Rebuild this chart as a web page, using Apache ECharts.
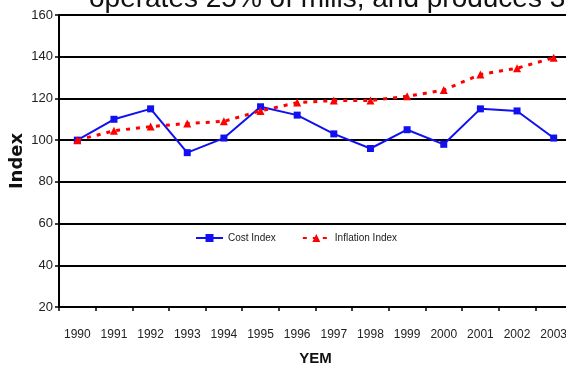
<!DOCTYPE html>
<html>
<head>
<meta charset="utf-8">
<title>Cost Index vs Inflation Index</title>
<script src="https://cdn.jsdelivr.net/npm/echarts@6/dist/echarts.min.js"></script>
<style>
  html, body { margin: 0; padding: 0; background: #fff; }
  #chart { width: 566px; height: 372px; }
</style>
</head>
<body>
<div id="chart"></div>
<script>
// Yearly index series (1990 = 100)
const years = ['1990', '1991', '1992', '1993', '1994', '1995', '1996',
               '1997', '1998', '1999', '2000', '2001', '2002', '2003'];
const costIndex = [100, 110, 115, 94, 101, 116, 112, 103, 96, 105, 98, 115, 114, 101];
const inflationIndex = [100, 104.5, 106.5, 108, 109, 114, 118, 119, 119, 121, 124, 131.5, 134.5, 139.5];
const yTicks = { min: 20, max: 160, step: 20 };
const titleText = 'operates 25% of mills, and produces 3';

const regular = "'Liberation Sans', Arial, sans-serif";

const chart = echarts.init(document.getElementById('chart'), null, { renderer: 'canvas' });

chart.setOption({
  backgroundColor: '#ffffff',
  animation: false,
  graphic: [{
    type: 'text',
    left: 89,
    top: -15,
    silent: true,
    style: {
      text: titleText,
      fill: '#111',
      font: '28px ' + regular
    }
  }],
  legend: {
    top: 233,
    left: 195,
    padding: 0,
    itemWidth: 27,
    itemHeight: 10,
    itemGap: 26,
    textStyle: { fontFamily: regular, fontSize: 10, color: '#222' },
    data: ['Cost Index', 'Inflation Index']
  },
  grid: { left: 59, top: 15, right: -6, bottom: 65, containLabel: false, outerBoundsMode: 'none' },
  xAxis: {
    type: 'category',
    data: years,
    boundaryGap: true,
    name: 'YEM',
    nameLocation: 'middle',
    nameGap: 44,
    nameMoveOverlap: false,
    nameTextStyle: { fontFamily: regular, fontWeight: 'bold', fontSize: 15, color: '#111' },
    axisLine: { lineStyle: { color: '#000', width: 2 } },
    axisTick: { show: true, length: 4, inside: false, interval: 0, lineStyle: { color: '#000', width: 1.5 } },
    axisLabel: { margin: 22, interval: 0, fontFamily: regular, fontSize: 12, color: '#222' },
    splitLine: { show: false }
  },
  yAxis: {
    type: 'value',
    min: yTicks.min,
    max: yTicks.max,
    interval: yTicks.step,
    name: 'Index',
    nameLocation: 'middle',
    nameGap: 33,
    nameRotate: 90,
    nameMoveOverlap: false,
    nameTextStyle: { fontFamily: "'DejaVu Sans', sans-serif", fontWeight: 'bold', fontSize: 18, color: '#111' },
    axisLine: { show: true, lineStyle: { color: '#000', width: 2 } },
    axisTick: { show: true, length: 4, lineStyle: { color: '#000', width: 1.5 } },
    axisLabel: { margin: 6, fontFamily: regular, fontSize: 13, color: '#222' },
    splitLine: { show: true, lineStyle: { color: '#000', width: 2 } }
  },
  series: [
    {
      name: 'Cost Index',
      type: 'line',
      data: costIndex,
      symbol: 'rect',
      symbolSize: 7,
      color: '#1010f0',
      lineStyle: { color: '#1010f0', width: 2 },
      itemStyle: { color: '#1010f0' },
      z: 3
    },
    {
      name: 'Inflation Index',
      type: 'line',
      data: inflationIndex,
      symbol: 'triangle',
      symbolSize: 8,
      color: '#ff0000',
      lineStyle: { color: '#ff0000', width: 3, type: [4, 6] },
      itemStyle: { color: '#ff0000' },
      z: 4
    }
  ]
});
</script>
</body>
</html>
